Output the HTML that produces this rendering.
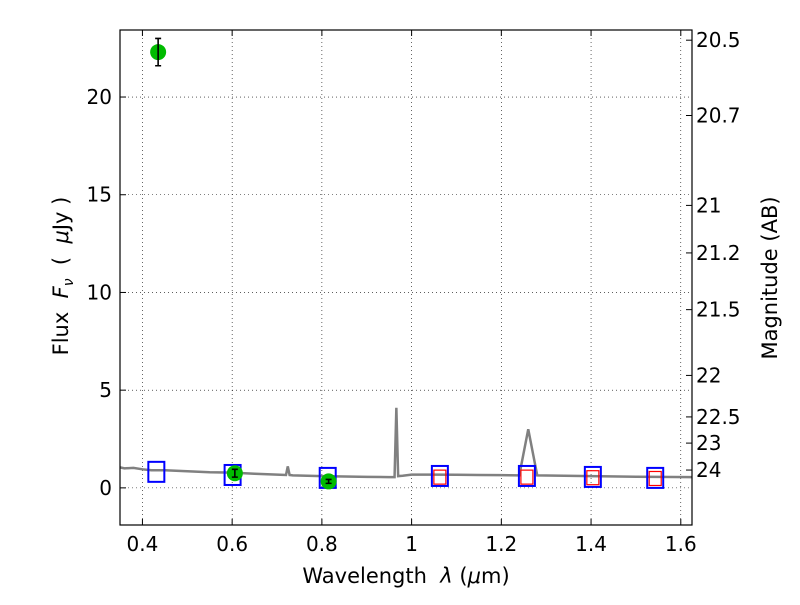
<!DOCTYPE html>
<html><head><meta charset="utf-8"><style>
body{margin:0;background:#fff}
svg text{font-family:"DejaVu Sans","Liberation Sans",sans-serif;fill:#000;white-space:pre}
</style></head><body>
<svg width="800" height="600" id="chart" xmlns="http://www.w3.org/2000/svg"></svg>
<script>
const specWl=[0.35,0.36,0.38,0.40,0.42,0.45,0.50,0.55,0.60,0.65,0.70,0.72,0.724,0.728,0.735,0.80,0.85,0.90,0.95,0.962,0.966,0.970,0.98,1.00,1.05,1.10,1.15,1.20,1.24,1.26,1.28,1.30,1.40,1.50,1.625];
const specFlux=[1.05,1.0,1.02,0.95,0.9,0.9,0.85,0.8,0.78,0.72,0.68,0.66,1.1,0.66,0.64,0.6,0.58,0.56,0.55,0.55,4.1,0.6,0.62,0.68,0.68,0.67,0.66,0.65,0.64,3.0,0.64,0.63,0.6,0.57,0.55];
const modelWl=[0.431,0.601,0.813,1.063,1.257,1.404,1.543];
const modelFlux=[0.82,0.66,0.51,0.61,0.61,0.56,0.51];
const synthWl=[1.063,1.257,1.404,1.543];
const synthFlux=[0.55,0.55,0.52,0.48];
const obsWl=[0.435,0.606,0.815];
const obsFlux=[22.3,0.75,0.33];
const obsErr=[0.7,0.2,0.1];
const xTicks=[0.4,0.6,0.8,1,1.2,1.4,1.6];
const yTicks=[0,5,10,15,20];
const magTicks=[20.5,20.7,21,21.2,21.5,22,22.5,23,24];

const L=120,R=692,T=30,B=525,x0=0.35,x1=1.625,y0=-1.9,y1=23.43;
const X=v=>L+(v-x0)/(x1-x0)*(R-L);
const Y=v=>B-(v-y0)/(y1-y0)*(B-T);
const svg=document.getElementById('chart');
const NS='http://www.w3.org/2000/svg';
function mk(tag,attrs,parent){const e=document.createElementNS(NS,tag);for(const k in attrs)e.setAttribute(k,attrs[k]);(parent||svg).appendChild(e);return e;}

xTicks.forEach(t=>{const g=mk('line',{x1:X(t),x2:X(t),y1:T,y2:B,stroke:'#000','stroke-width':0.6,'stroke-dasharray':'1,3'});

});
yTicks.forEach(t=>{const g=mk('line',{x1:L,x2:R,y1:Y(t),y2:Y(t),stroke:'#000','stroke-width':0.6,'stroke-dasharray':'1,3'});

});

const sp=mk('polyline',{points:specWl.map((w,i)=>X(w)+','+Y(specFlux[i])).join(' '),fill:'none',stroke:'#808080','stroke-width':2.5});



modelWl.forEach((w,i)=>{const r=mk('rect',{x:X(w)-8,y:Y(modelFlux[i])-10,width:16,height:20,fill:'none',stroke:'#0000ff','stroke-width':2});

});
synthWl.forEach((w,i)=>{const r=mk('rect',{x:X(w)-6,y:Y(synthFlux[i])-7,width:12,height:14,fill:'none',stroke:'#ff0000','stroke-width':1.2});

});

obsWl.forEach((w,i)=>{
const c=mk('circle',{cx:X(w),cy:Y(obsFlux[i]),r:8,fill:'#00bb00'});


const ya=Y(obsFlux[i]+obsErr[i]),yb=Y(obsFlux[i]-obsErr[i]);
const e=mk('path',{d:`M${X(w)},${ya}V${yb}M${X(w)-3},${ya}h6M${X(w)-3},${yb}h6`,stroke:'#000','stroke-width':1.6,fill:'none'});

});

const fr=mk('rect',{x:L,y:T,width:R-L,height:B-T,fill:'none',stroke:'#000','stroke-width':1.2});



xTicks.forEach(t=>{mk('path',{d:`M${X(t)},${B}v-6M${X(t)},${T}v6`,stroke:'#000'});
const tx=mk('text',{x:X(t),y:B+26,'text-anchor':'middle','font-size':20});tx.textContent=String(t);

});
yTicks.forEach(t=>{mk('path',{d:`M${L},${Y(t)}h6`,stroke:'#000'});
const tx=mk('text',{x:L-8,y:Y(t)+7,'text-anchor':'end','font-size':20});tx.textContent=String(t);

});
magTicks.forEach(m=>{const y=Y(Math.pow(10,(23.9-m)/2.5));mk('path',{d:`M${R},${y}h-6`,stroke:'#000'});
const tx=mk('text',{x:R+4,y:y+7,'font-size':20});tx.textContent=String(m);

});

const xl=mk('text',{x:406,y:583,'text-anchor':'middle','font-size':21});
xl.innerHTML='Wavelength  <tspan font-style="italic">λ</tspan> (<tspan font-style="italic">μ</tspan>m)';


const yl=mk('text',{x:68,y:276,'text-anchor':'middle','font-size':21,transform:'rotate(-90 68 276)'});
yl.innerHTML='Flux  <tspan font-style="italic">F</tspan><tspan font-style="italic" font-size="14" dy="5">ν</tspan><tspan dy="-5">  (  </tspan><tspan font-style="italic">μ</tspan>Jy )';


const rl=mk('text',{x:777,y:278,'text-anchor':'middle','font-size':21,transform:'rotate(-90 777 278)'});
rl.textContent='Magnitude (AB)';


</script>
</body></html>
